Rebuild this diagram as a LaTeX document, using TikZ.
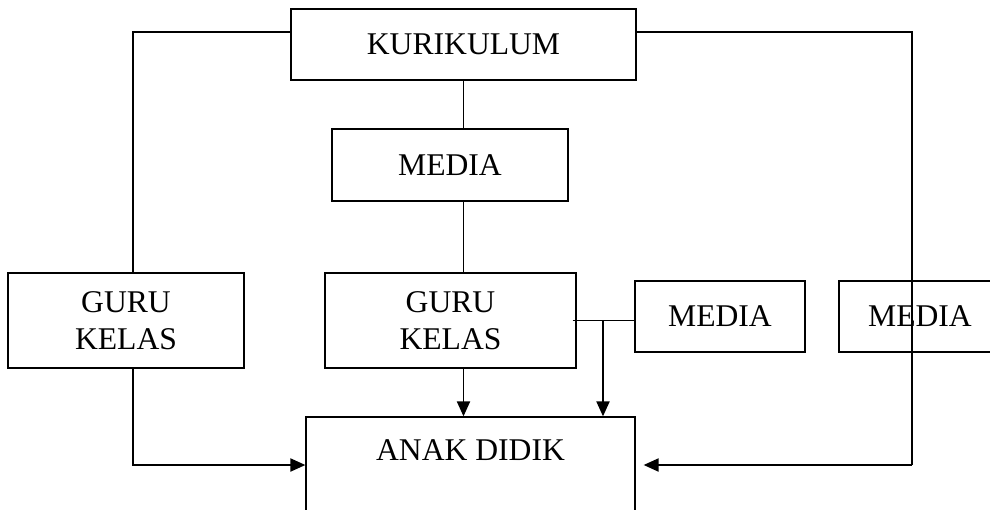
\documentclass[tikz,border=0pt]{standalone}
\usepackage{fontspec}
\setmainfont{Liberation Serif}
\usetikzlibrary{arrows.meta,positioning}

\begin{document}
\begin{tikzpicture}
[
	              x = 0.02cm,
	              y = -0.02cm,
	           line width = 0.8pt,
	           ->/.style = { -{Triangle[length=8.5pt,width=7.5pt]} },
	  box/.style = { draw=black, rectangle, inner sep=0pt, align=center,
	                 font=\fontsize{18}{21}\selectfont },
	  txt/.style = { draw=none, inner sep=0pt, font=\fontsize{18}{21}\selectfont }
]
	\useasboundingbox (0,0) rectangle (990,510);
	\clip (0,0) rectangle (990,510);

	\node (kur)    at (463.5,44.5) [box, minimum width=6.9cm,  minimum height=1.42cm] {KURIKULUM};
	\node (media1) at (450,165)    [box, minimum width=4.72cm, minimum height=1.44cm] {MEDIA};

	\node (guru1)  at (126,320.5)  [box, minimum width=4.72cm, minimum height=1.9cm]  {GURU\\KELAS};
	\node (guru2)  at (450.5,320.5)[box, minimum width=5.02cm, minimum height=1.9cm]  {GURU\\KELAS};
	\node (media2) at (720,316.5)  [box, minimum width=3.4cm,  minimum height=1.42cm] {MEDIA};
	\node (media3) at (920,316.5)  [box, minimum width=3.24cm, minimum height=1.42cm] {MEDIA};

	\node (anak)   at (470.5,465)  [box, minimum width=6.58cm, minimum height=1.92cm] {};
	\node (anaktxt) at (470.5,450) [txt] {ANAK DIDIK};

	\coordinate (right) at (904,0);
	\coordinate (split) at (603,320.5);

	% kurikulum - media - guru kelas
	\draw (kur.south) -- (kur.south |- media1.north);
	\draw (kur.south |- media1.south) -- (kur.south |- guru2.north);
	\draw [->] (kur.south |- guru2.south) -- (kur.south |- anak.north);

	% left branch
	\draw ([yshift=0.25cm]kur.west) -| ([xshift=0.14cm]guru1.north);
	\draw [->] ([xshift=0.14cm]guru1.south) |- (anak.west);

	% right branch
	\draw ([yshift=0.25cm]kur.east) -| ([xshift=0.16cm]anak.east -| right);
	\draw [->] ([xshift=0.16cm]anak.east -| right) -- ([xshift=0.16cm]anak.east);

	% media beside guru kelas
	\draw ([xshift=-0.08cm]guru2.east) -- (guru2.east -| media2.west);
	\draw [->] (split) -- (split |- anak.north);

\end{tikzpicture}
\end{document}
